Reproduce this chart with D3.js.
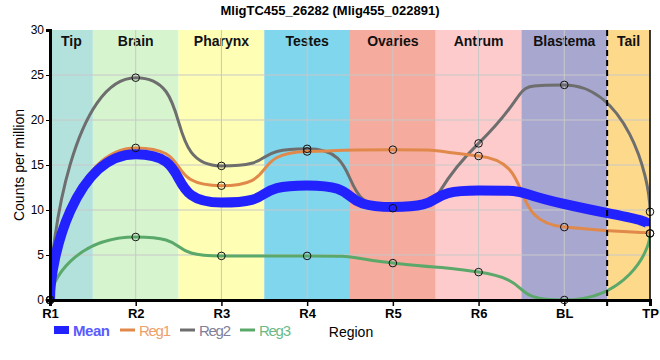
<!DOCTYPE html>
<html><head><meta charset="utf-8">
<script src="https://cdn.jsdelivr.net/npm/d3@7"></script>
<style>body{margin:0;background:#fff}svg{display:block;font-family:"Liberation Sans",Arial,sans-serif}</style>
</head><body><svg id="c" width="660" height="360"></svg>
<script>
const categories = ["R1","R2","R3","R4","R5","R6","BL","TP"];
const regions = ["Tip","Brain","Pharynx","Testes","Ovaries","Antrum","Blastema","Tail"];
const regionColors = ["#b3e2dd","#d6f5cf","#fefeb4","#80d6ec","#f5ab9e","#fecbcc","#a8a7cf","#fdd98b"];
const reg1 = [0,16.9,12.7,16.5,16.7,16.0,8.1,7.4];
const reg2 = [0,24.7,14.9,16.8,10.2,17.4,23.9,9.8];
const reg3 = [0,7.0,4.9,4.9,4.1,3.1,0,7.4];
const meanVals = categories.map((c,i)=>(reg1[i]+reg2[i]+reg3[i])/3);
const yTicks = [0,5,10,15,20,25,30];

const svg = d3.select("#c");
const W=660, H=360, L=50, R=650, T=30, B=300;
const x = d3.scalePoint().domain(categories).range([L,R]);
const y = d3.scaleLinear().domain([0,30]).range([B,T]);
const step = x.step();

// smooth spline: monotone tangents, long horizontal handles, vertical handles at the ends
function splinePath(vals){
  const pts = vals.map((v,i)=>[x(categories[i]), y(v)]);
  const n = pts.length, K = 0.7, E = 0.3;
  const m = pts.map((pt,i)=>{
    if(i===0||i===n-1) return null;
    const s0=(pt[1]-pts[i-1][1])/(pt[0]-pts[i-1][0]), s1=(pts[i+1][1]-pt[1])/(pts[i+1][0]-pt[0]);
    if(s0*s1<=0) return 0;
    let sl = Math.sign(s0)*Math.min(Math.abs(s0),Math.abs(s1),Math.abs((s0+s1)/2))*2;
    const lim = Math.min(Math.abs(s0),Math.abs(s1))/K;
    if(Math.abs(sl)>lim) sl=Math.sign(sl)*lim;
    return sl;
  });
  const p = d3.path();
  p.moveTo(pts[0][0],pts[0][1]);
  for(let i=1;i<n;i++){
    const [ax,ay]=pts[i-1], [bx,by]=pts[i], h=bx-ax;
    let c1x,c1y,c2x,c2y;
    if(i-1===0){ c1x=ax; c1y=ay+E*(by-ay); }
    else { c1x=ax+K*h; c1y=ay+m[i-1]*K*h; }
    if(i===n-1){ c2x=bx; c2y=by+E*(ay-by); }
    else { c2x=bx-K*h; c2y=by-m[i]*K*h; }
    p.bezierCurveTo(c1x,c1y,c2x,c2y,bx,by);
  }
  return p.toString();
}

regions.forEach((r,i)=>{
  const x0 = i===0 ? L : x(categories[i]) - step/2;
  const x1 = i===regions.length-1 ? R : x(categories[i]) + step/2;
  svg.append("rect").attr("x",x0).attr("y",T).attr("width",x1-x0).attr("height",B-T).attr("fill",regionColors[i]);
  svg.append("text").attr("x",(x0+x1)/2).attr("y",T+16).attr("text-anchor","middle")
    .attr("font-size",14).attr("font-weight","bold").attr("fill","#111").text(r);
});
const g = svg.append("g");
yTicks.forEach(t=>{ if(t>0&&t<30) g.append("line").attr("x1",L).attr("x2",R).attr("y1",y(t)).attr("y2",y(t)).attr("stroke","#c8c8c8").attr("stroke-width",1); });
categories.forEach(c=>{ g.append("line").attr("x1",x(c)).attr("x2",x(c)).attr("y1",T).attr("y2",B).attr("stroke","#c8c8c8").attr("stroke-width",1); });

svg.append("clipPath").attr("id","clip").append("rect").attr("x",L).attr("y",T-10).attr("width",R-L).attr("height",B-T+10);
const lines = svg.append("g").attr("clip-path","url(#clip)");
lines.append("path").attr("d",splinePath(reg3)).attr("fill","none").attr("stroke","#5aa86a").attr("stroke-width",3);
lines.append("path").attr("d",splinePath(reg2)).attr("fill","none").attr("stroke","#6e6e6e").attr("stroke-width",3);
lines.append("path").attr("d",splinePath(reg1)).attr("fill","none").attr("stroke","#e0894a").attr("stroke-width",3);
lines.append("path").attr("d",splinePath(meanVals)).attr("fill","none").attr("stroke","#2222ff").attr("stroke-width",10);

[reg1,reg2,reg3].forEach(s=>{
  svg.append("g").selectAll("circle").data(s).join("circle")
    .attr("cx",(d,i)=>x(categories[i])).attr("cy",d=>y(d)).attr("r",3.8)
    .attr("fill","none").attr("stroke","#111").attr("stroke-width",1);
});

const xd = x("BL")+step/2;
svg.append("line").attr("x1",xd).attr("x2",xd).attr("y1",T).attr("y2",B+6).attr("stroke","#000").attr("stroke-width",2).attr("stroke-dasharray","6,4");

const ya = svg.append("g").attr("transform",`translate(${L},0)`).call(d3.axisLeft(y).tickValues(yTicks).tickSize(4).tickPadding(2));
ya.select(".domain").attr("stroke-width",3);
ya.selectAll("text").attr("font-size",12).attr("fill","#000").attr("font-family","inherit");
const xa = svg.append("g").attr("transform",`translate(0,${B})`).call(d3.axisBottom(x).tickSize(6).tickPadding(3));
xa.select(".domain").attr("stroke-width",3);
xa.selectAll("line").attr("stroke-width",1.5);
xa.selectAll("text").attr("font-size",13).attr("font-weight","bold").attr("fill","#000").attr("font-family","inherit");
svg.append("line").attr("x1",R).attr("x2",R).attr("y1",T).attr("y2",B).attr("stroke","#000").attr("stroke-width",1.5);

svg.append("text").attr("x",W/2).attr("y",15).attr("text-anchor","middle").attr("font-size",13).attr("font-weight","bold").text("MligTC455_26282 (Mlig455_022891)");
svg.append("text").attr("transform",`translate(24,${(T+B)/2}) rotate(-90)`).attr("text-anchor","middle").attr("font-size",14).text("Counts per million");
svg.append("text").attr("x",351).attr("y",337).attr("text-anchor","middle").attr("font-size",14).text("Region");

const legendItems = [
  {name:"Mean", color:"#2222ff", text:"#5a5aff", w:8},
  {name:"Reg1", color:"#e0894a", text:"#eea06a", w:3},
  {name:"Reg2", color:"#6e6e6e", text:"#80809a", w:3},
  {name:"Reg3", color:"#5aa86a", text:"#6cba88", w:3}
];
const legX = [54,120,180,240];
const legLen = [15,15,15,15];
legendItems.forEach((d,i)=>{
  svg.append("line").attr("x1",legX[i]).attr("x2",legX[i]+legLen[i]).attr("y1",330).attr("y2",330).attr("stroke",d.color).attr("stroke-width",d.w);
  svg.append("text").attr("x",legX[i]+19).attr("y",336).attr("font-size",15).attr("font-weight",i===0?"bold":"normal").attr("textLength",i===0?37:32).attr("fill",d.text).text(d.name);
});
</script></body></html>
